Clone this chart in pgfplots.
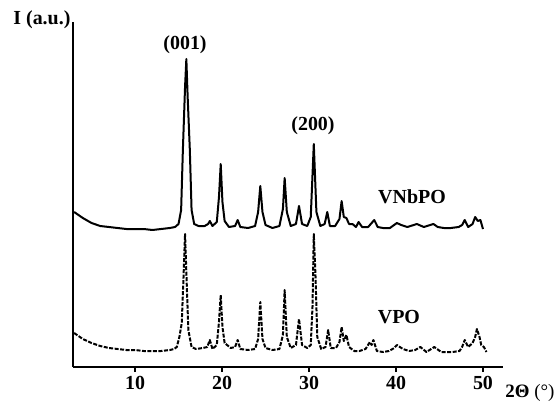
\documentclass[border=0pt]{standalone}
\usepackage{fontspec}
\setmainfont{Liberation Serif}
\usepackage{pgfplots}
\pgfplotsset{compat=1.18}

\newcommand{\lbl}{\fontsize{20}{22}\selectfont\bfseries}

\begin{document}
\begin{tikzpicture}
\useasboundingbox (0bp,0bp) rectangle (557bp,-404bp);
\begin{axis}[
    at={(73bp,-367bp)}, anchor=south west,
    scale only axis,
    width=430bp, height=345bp,
    xmin=2.87, xmax=52.3,
    ymin=0, ymax=345,
    axis x line=bottom, axis y line=left,
    axis line style={line width=2.2bp, -},
    xtick={10,20,30,40,50},
    xticklabels={10,20,30,40,50},
    ytick=\empty,
    tick align=outside,
    major tick length=5bp,
    tick style={line width=1.6bp, black},
    x tick label style={font=\lbl, yshift=-1bp},
    clip=false,
]

% VNbPO (top, solid)
\addplot[black, line width=2bp, line join=round] coordinates {
(3,155)(3.5,152)(4,149)(5,144)(6,141)(7,140)(8,139)(9,138)(10,138)(11,138)(12,137)(13,138)(14,139)(14.6,140)(15.0,143)(15.3,157)(15.5,217)(15.75,280)(15.9,308)(16.05,270)(16.3,217)(16.5,157)(16.8,143)(17.3,141)(18.0,141)(18.4,143)(18.6,146)(18.9,141)(19.4,145)(19.65,170)(19.85,203)(20.05,165)(20.3,146)(20.8,140)(21.5,141)(21.8,147)(22.1,140)(23,139)(23.8,141)(24.15,155)(24.4,181)(24.65,155)(25.0,142)(25.8,139)(26.6,141)(27.0,158)(27.2,189)(27.45,155)(27.9,141)(28.5,143)(28.85,161)(29.2,143)(29.8,141)(30.2,150)(30.55,223)(30.85,155)(31.3,141)(31.8,143)(32.1,155)(32.4,141)(33.0,141)(33.5,148)(33.75,166)(34.0,150)(34.3,149)(34.6,143)(35.0,143)(35.4,140)(35.7,145)(36.1,140)(36.8,140)(37.5,147)(37.9,140)(38.5,139)(39.3,139)(40.1,144)(40.6,142)(41.3,140)(42.4,143)(43.2,140)(44.3,143)(44.8,140)(45.5,139)(46.3,139)(47.2,140)(47.6,142)(47.9,147)(48.3,140)(48.8,143)(49.1,150)(49.4,146)(49.7,147)(50.0,138)
};

% VPO (bottom, dashed)
\addplot[black, line width=2bp, line join=round, dash pattern=on 4bp off 1.5bp] coordinates {
(3,34)(3.5,31)(4,28)(5,24)(6,21)(7,19)(8,18)(9,17)(10,17)(11,16)(12,16)(13,16)(14,17)(14.5,18)(14.8,20)(15.1,30)(15.37,44)(15.55,84)(15.75,133)(15.94,84)(16.13,37)(16.5,20)(17,18)(17.8,19)(18.3,20)(18.6,27)(18.9,18)(19.4,22)(19.65,45)(19.85,72)(20.05,40)(20.3,24)(21.0,19)(21.5,20)(21.8,27)(22.1,18)(23.0,17)(23.8,18)(24.15,28)(24.4,65)(24.65,28)(25.0,19)(25.8,17)(26.6,18)(27.0,32)(27.2,77)(27.45,30)(27.9,19)(28.5,22)(28.85,48)(29.2,22)(29.8,19)(30.2,22)(30.4,60)(30.55,133)(30.75,90)(30.95,30)(31.4,18)(31.9,20)(32.2,37)(32.5,19)(33.1,19)(33.5,25)(33.75,40)(34.0,26)(34.3,32)(34.6,20)(35.2,16)(35.8,16)(36.5,18)(37.0,25)(37.2,22)(37.4,27)(37.8,16)(38.5,15)(39.2,16)(39.8,19)(40.1,22)(40.8,18)(41.5,16)(42.2,17)(42.8,20)(43.5,15)(44.4,20)(45.2,15)(46.5,15)(47.3,16)(47.6,20)(47.9,27)(48.3,20)(48.8,24)(49.1,30)(49.3,38)(49.6,30)(49.8,22)(50.1,20)(50.4,15)
};

\node[font=\lbl, anchor=east, inner sep=0pt] at (axis cs:2.6,347) {I (a.u.)};
\node[font=\lbl] at (axis cs:15.75,322) {(001)};
\node[font=\lbl] at (axis cs:30.46,241) {(200)};
\node[font=\lbl] at (axis cs:41.84,170) {VNbPO};
\node[font=\lbl] at (axis cs:40.34,50) {VPO};
\node[font=\fontsize{19}{21}\selectfont, anchor=west, inner sep=0pt] at (axis cs:52.55,-26) {\textbf{2Θ} (°)};
\end{axis}
\end{tikzpicture}
\end{document}
